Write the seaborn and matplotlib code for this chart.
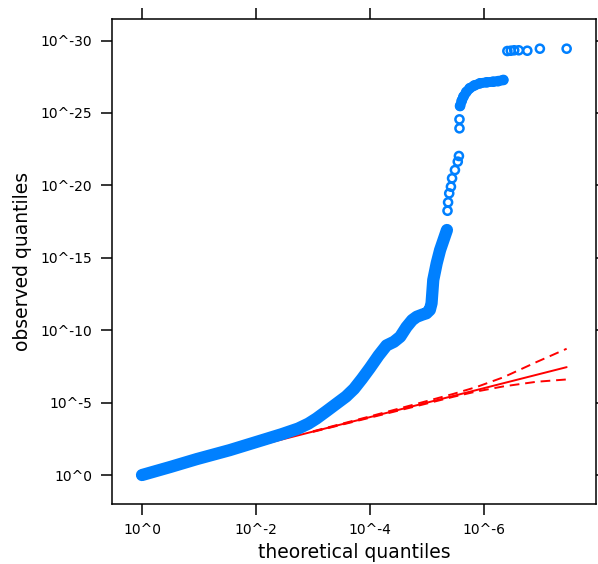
import numpy as np
import pandas as pd
import matplotlib
matplotlib.use("Agg")
import matplotlib.pyplot as plt
import seaborn as sns

# ---- data (-log10 scale) ----
# dense lower band of observed vs expected quantiles
band_x = [0.0, 0.50, 0.96, 1.54, 2.12, 2.45, 2.74, 2.92, 3.06, 3.24, 3.42, 3.58,
          3.72, 3.86, 4.00, 4.15, 4.29, 4.42, 4.53, 4.64, 4.74, 4.82, 4.92, 4.99,
          5.05, 5.08, 5.11, 5.17, 5.23, 5.29, 5.35]
band_y = [0.0, 0.56, 1.10, 1.72, 2.42, 2.82, 3.21, 3.55, 3.90, 4.42, 4.95, 5.42,
          5.95, 6.65, 7.40, 8.25, 8.95, 9.20, 9.55, 10.22, 10.70, 10.93, 11.08, 11.17,
          11.40, 11.86, 13.47, 14.62, 15.54, 16.23, 16.92]
# dense upper plateau
plateau_x = [5.58, 5.61, 5.64, 5.69, 5.75, 5.83, 5.93, 6.05, 6.16, 6.25, 6.34]
plateau_y = [25.48, 25.85, 26.13, 26.45, 26.71, 26.90, 27.05, 27.12, 27.16, 27.20, 27.28]
# sparse individual points
sparse_x = [5.36, 5.37, 5.39, 5.42, 5.44, 5.49, 5.54, 5.56, 5.57, 5.57,
            6.41, 6.47, 6.53, 6.61, 6.76, 6.98, 7.45]
sparse_y = [18.25, 18.83, 19.45, 19.91, 20.49, 21.06, 21.64, 22.03, 23.94, 24.56,
            29.28, 29.30, 29.33, 29.33, 29.30, 29.44, 29.44]
# reference diagonal and confidence band
diag_x = [0.0, 7.45]
diag_y = [0.0, 7.45]
ci_x = [3.0, 4.0, 4.99, 5.46, 5.87, 6.34, 6.92, 7.45]
ci_upper = [3.02, 4.05, 5.10, 5.60, 6.08, 6.75, 7.80, 8.72]
ci_lower = [2.98, 3.96, 4.93, 5.40, 5.77, 6.12, 6.44, 6.60]

xtick_vals = [0, 2, 4, 6]
xtick_labels = ["10^0", "10^-2", "10^-4", "10^-6"]
ytick_vals = [0, 5, 10, 15, 20, 25, 30]
ytick_labels = ["10^0", "10^-5", "10^-10", "10^-15", "10^-20", "10^-25", "10^-30"]

BLUE = "#0080FF"
RED = "#FF0000"

sns.set_theme(style="ticks")
plt.rcParams["font.family"] = ["DejaVu Sans"]

fig = plt.figure(figsize=(5.98, 5.64), dpi=100)
ax = fig.add_axes([112 / 598, (564 - 504) / 564, (596 - 112) / 598, (504 - 19) / 564])

band = pd.DataFrame({"x": band_x, "y": band_y})
plateau = pd.DataFrame({"x": plateau_x, "y": plateau_y})
sparse = pd.DataFrame({"x": sparse_x, "y": sparse_y})
diag = pd.DataFrame({"x": diag_x, "y": diag_y})
ci = pd.DataFrame({"x": ci_x, "up": ci_upper, "lo": ci_lower})

# red reference lines (under the points)
sns.lineplot(data=diag, x="x", y="y", ax=ax, color=RED, lw=1.4, sort=False,
             estimator=None, zorder=1)
for col in ["up", "lo"]:
    sns.lineplot(data=ci, x="x", y=col, ax=ax, color=RED, lw=1.4, sort=False,
                 estimator=None, zorder=1, dashes=False, linestyle=(0, (5, 3)))

# dense runs of overlapping points
sns.lineplot(data=band, x="x", y="y", ax=ax, color=BLUE, lw=8.8, sort=False,
             estimator=None, zorder=2)
sns.lineplot(data=plateau, x="x", y="y", ax=ax, color=BLUE, lw=7.2, sort=False,
             estimator=None, zorder=2)
for ln in ax.get_lines()[-2:]:
    ln.set_solid_capstyle("round")
    ln.set_solid_joinstyle("round")

# open circle points
for df in (band, plateau, sparse):
    sns.scatterplot(data=df, x="x", y="y", ax=ax, marker="o", s=34,
                    facecolor="none", edgecolor=BLUE, linewidth=1.8, zorder=3)

ax.set_xlim(-0.526, 7.965)
ax.set_ylim(-2.0, 31.49)
ax.set_xticks(xtick_vals)
ax.set_xticklabels(xtick_labels)
ax.set_yticks(ytick_vals)
ax.set_yticklabels(ytick_labels)
ax.tick_params(axis="both", direction="out", length=8, width=1.1, color="black",
               labelsize=10, labelcolor="black", top=True, right=True,
               labeltop=False, labelright=False, pad=6)
for sp in ax.spines.values():
    sp.set_visible(True)
    sp.set_linewidth(1.1)
    sp.set_color("black")
ax.set_xlabel("theoretical quantiles", fontsize=13.5, color="black", labelpad=4)
ax.set_ylabel("observed quantiles", fontsize=13.5, color="black", labelpad=6)

fig.savefig("out.png", dpi=100)
